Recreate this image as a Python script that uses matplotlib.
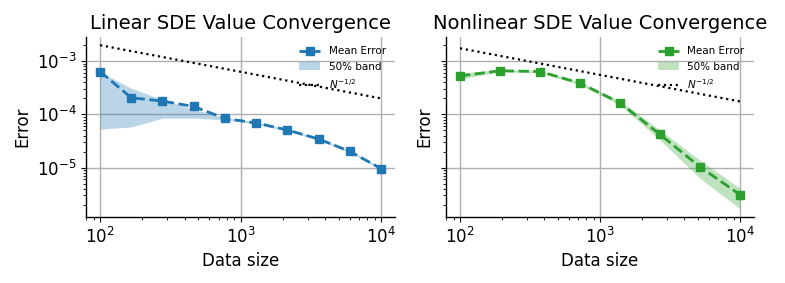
import numpy as np
import matplotlib
matplotlib.use("Agg")
import matplotlib.pyplot as plt

# Linear SDE
lin_n = [100, 167, 278, 464, 774, 1292, 2154, 3594, 5995, 10000]
lin_mean = [6.4e-4, 2.05e-4, 1.78e-4, 1.41e-4, 8.4e-5, 6.9e-5, 5.1e-5, 3.45e-5, 2.02e-5, 9.6e-6]
lin_lo = [5.3e-5, 5.8e-5, 8.5e-5, 8.5e-5, 7.9e-5, 6.6e-5, 4.85e-5, 3.3e-5, 1.93e-5, 9.1e-6]
lin_hi = [6.3e-4, 3.1e-4, 1.9e-4, 1.25e-4, 8.8e-5, 7.2e-5, 5.3e-5, 3.6e-5, 2.1e-5, 1.0e-5]
lin_ref = [2.0e-3, 2.0e-4]

# Nonlinear SDE
non_n = [100, 193, 373, 720, 1389, 2683, 5179, 10000]
non_mean = [5.3e-4, 6.6e-4, 6.4e-4, 3.87e-4, 1.65e-4, 4.2e-5, 1.03e-5, 3.1e-6]
non_lo = [4.6e-4, 6.3e-4, 6.1e-4, 3.6e-4, 1.5e-4, 3.3e-5, 6.3e-6, 1.68e-6]
non_hi = [6.0e-4, 6.9e-4, 6.7e-4, 4.1e-4, 1.8e-4, 5.1e-5, 1.38e-5, 4.1e-6]
non_ref = [1.75e-3, 1.75e-4]

ref_n = [100, 10000]

fig = plt.figure(figsize=(7.85, 2.83), dpi=100)
ax1 = fig.add_axes([86/785, 1-217/283, 309/785, 180/283])
ax2 = fig.add_axes([446/785, 1-217/283, 308/785, 180/283], sharey=ax1)

def draw(ax, n, mean, lo, hi, ref, color, title):
    ax.fill_between(n, lo, hi, color=color, alpha=0.3, linewidth=0, label='50% band')
    ax.plot(n, mean, color=color, linestyle='--', marker='s', markersize=6, linewidth=2,
            label='Mean Error')
    ax.plot(ref_n, ref, color='black', linestyle=':', linewidth=1.6, label=r'$N^{-1/2}$')
    ax.set_xscale('log')
    ax.set_yscale('log')
    ax.grid(True, which='major', color='#b0b0b0', linewidth=1.0)
    ax.set_axisbelow(True)
    ax.spines['top'].set_visible(False)
    ax.spines['right'].set_visible(False)
    for s in ('left', 'bottom'):
        ax.spines[s].set_linewidth(1.0)
    ax.set_title(title, fontsize=14)
    ax.set_xlabel('Data size', fontsize=12)
    ax.set_ylabel('Error', fontsize=12)
    ax.tick_params(labelsize=12)
    h, l = ax.get_legend_handles_labels()
    order = [1, 0, 2]
    ax.legend([h[i] for i in order], [l[i] for i in order], loc='upper right',
              fontsize=7.5, frameon=False)

draw(ax1, lin_n, lin_mean, lin_lo, lin_hi, lin_ref, '#1f77b4', 'Linear SDE Value Convergence')
draw(ax2, non_n, non_mean, non_lo, non_hi, non_ref, '#2ca02c', 'Nonlinear SDE Value Convergence')
ax2.tick_params(labelleft=False)

fig.savefig('out.png', dpi=100)
